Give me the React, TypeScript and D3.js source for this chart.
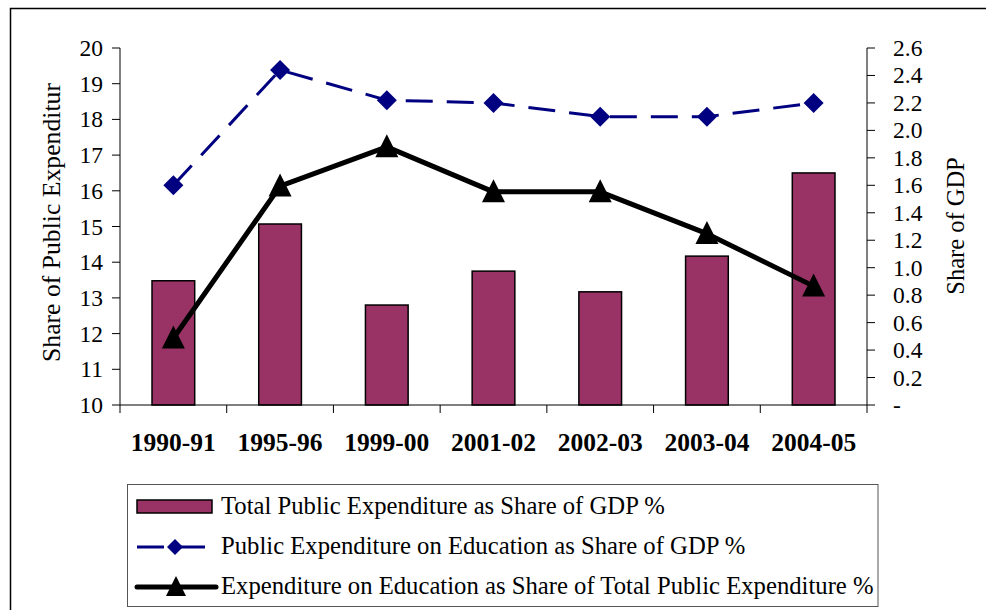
import React from 'react';
import * as d3 from 'd3';

const categories = ['1990-91', '1995-96', '1999-00', '2001-02', '2002-03', '2003-04', '2004-05'];
const totalExpGdp = [13.48, 15.07, 12.8, 13.75, 13.17, 14.17, 16.5];
const eduGdp = [1.6, 2.44, 2.22, 2.2, 2.1, 2.1, 2.2];
const eduShareTotal = [11.87, 16.13, 17.23, 15.97, 15.97, 14.8, 13.33];
const leftTicks = [10, 11, 12, 13, 14, 15, 16, 17, 18, 19, 20];
const rightTicks = [0, 0.2, 0.4, 0.6, 0.8, 1.0, 1.2, 1.4, 1.6, 1.8, 2.0, 2.2, 2.4, 2.6];
const legendLabels = [
  'Total Public Expenditure as Share of GDP %',
  'Public Expenditure on Education as Share of GDP %',
  'Expenditure on Education as Share of Total Public Expenditure %',
];

const FONT = "'Liberation Serif', 'Times New Roman', Times, serif";

export default function App() {
  const left = 120, right = 867, top = 48, bottom = 405;
  const x = d3.scaleBand<string>().domain(categories).range([left, right]);
  const yL = d3.scaleLinear().domain([10, 20]).range([bottom, top]);
  const yR = d3.scaleLinear().domain([0, 2.6]).range([bottom, top]);
  const cx = (c: string) => (x(c) as number) + x.bandwidth() / 2;
  const bw = x.bandwidth() * 0.4;

  const eduGdpLine = d3.line<number>().x((_, i) => cx(categories[i])).y(d => yR(d))(eduGdp) as string;
  const shareLine = d3.line<number>().x((_, i) => cx(categories[i])).y(d => yL(d))(eduShareTotal) as string;

  const diamond = (px: number, py: number, r: number) => `M${px},${py - r}L${px + r},${py}L${px},${py + r}L${px - r},${py}Z`;
  const tri = (px: number, py: number, s: number) => `M${px},${py - s * 0.55}L${px + s / 2},${py + s * 0.45}L${px - s / 2},${py + s * 0.45}Z`;

  const boundaries = [left, ...categories.map(c => (x(c) as number) + x.bandwidth())];

  return (
    <svg width={986} height={610} style={{ position: 'absolute', left: 0, top: 0, background: '#fff', fontFamily: FONT }}>
      <defs>
        <clipPath id="ytitleclip">
          <rect x={0} y={83} width={120} height={500} />
        </clipPath>
      </defs>
      <rect x={0} y={0} width={986} height={610} fill="#fff" />
      <rect x={10.5} y={8.5} width={990} height={620} fill="none" stroke="#000" strokeWidth={1.5} />

      {/* bars */}
      {totalExpGdp.map((v, i) => (
        <rect key={i} x={cx(categories[i]) - bw / 2} y={yL(v)} width={bw} height={yL(10) - yL(v)}
          fill="#993366" stroke="#000" strokeWidth={1.5} />
      ))}

      {/* axes */}
      <line x1={left} x2={left} y1={top} y2={bottom} stroke="#000" strokeWidth={1} />
      <line x1={right} x2={right} y1={top} y2={bottom} stroke="#000" strokeWidth={1} />
      <line x1={left} x2={right} y1={bottom} y2={bottom} stroke="#000" strokeWidth={1} />
      {leftTicks.map(t => (
        <g key={'l' + t}>
          <line x1={left - 8} x2={left} y1={yL(t)} y2={yL(t)} stroke="#000" />
          <text x={103} y={yL(t) + 8} textAnchor="end" fontSize={23.5} style={{ fontFamily: FONT }}>{t}</text>
        </g>
      ))}
      {rightTicks.map(t => (
        <g key={'r' + t}>
          <line x1={right} x2={right + 8} y1={yR(t)} y2={yR(t)} stroke="#000" />
          <text x={893} y={yR(t) + 8} textAnchor="start" fontSize={23.5} style={{ fontFamily: FONT }}>{t === 0 ? '-' : t.toFixed(1)}</text>
        </g>
      ))}
      {boundaries.map((b, i) => (
        <line key={'b' + i} x1={b} x2={b} y1={bottom} y2={bottom + 8} stroke="#000" />
      ))}
      {categories.map(c => (
        <text key={c} x={cx(c)} y={451} textAnchor="middle" fontSize={25.5} fontWeight="bold" style={{ fontFamily: FONT }}>{c}</text>
      ))}

      {/* axis titles */}
      <g clipPath="url(#ytitleclip)">
        <text transform="translate(60,362) rotate(-90)" fontSize={25.7} textAnchor="start" style={{ fontFamily: FONT }}>Share of Public Expenditure</text>
      </g>
      <text transform="translate(964,226) rotate(-90)" fontSize={24.5} textAnchor="middle" style={{ fontFamily: FONT }}>Share of GDP</text>

      {/* dashed line */}
      <path d={eduGdpLine} fill="none" stroke="#000080" strokeWidth={3} strokeDasharray="27 14" />
      {eduGdp.map((v, i) => (
        <path key={'d' + i} d={diamond(cx(categories[i]), yR(v), 10)} fill="#000080" />
      ))}

      {/* black line */}
      <path d={shareLine} fill="none" stroke="#000" strokeWidth={5} strokeLinejoin="round" />
      {eduShareTotal.map((v, i) => (
        <path key={'t' + i} d={tri(cx(categories[i]), yL(v), 23)} fill="#000" />
      ))}

      {/* legend */}
      <rect x={127.5} y={484.5} width={750.5} height={122} fill="#fff" stroke="#555" strokeWidth={1} />
      <rect x={137} y={500} width={75} height={13} fill="#993366" stroke="#000" strokeWidth={1.5} />
      <line x1={137} x2={205} y1={547} y2={547} stroke="#000080" strokeWidth={3} strokeDasharray="27 14" />
      <path d={diamond(175, 547, 8)} fill="#000080" />
      <line x1={137} x2={216} y1={587} y2={587} stroke="#000" strokeWidth={5} strokeLinecap="round" />
      <path d={tri(176, 587, 20)} fill="#000" />
      {legendLabels.map((l, i) => (
        <text key={l} x={221} y={514 + i * 40} fontSize={24.7} style={{ fontFamily: FONT }}>{l}</text>
      ))}
    </svg>
  );
}
